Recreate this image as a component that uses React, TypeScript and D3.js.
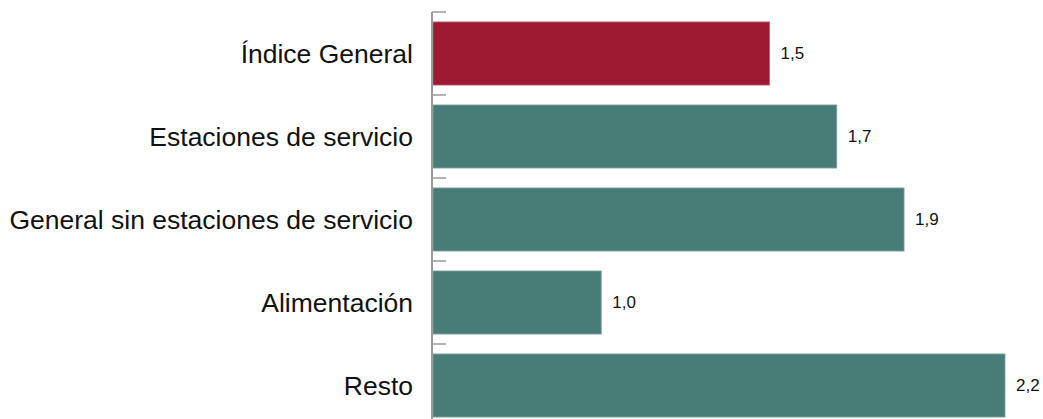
import * as d3 from "d3";
import { useEffect, useRef } from "react";

const categories = [
  "Índice General",
  "Estaciones de servicio",
  "General sin estaciones de servicio",
  "Alimentación",
  "Resto",
];
const values = [1.5, 1.7, 1.9, 1.0, 2.2];
const highlighted = ["Índice General"];

const width = 1043;
const height = 419;
const font = "'Liberation Sans', Arial, sans-serif";

export default function App() {
  const svgRef = useRef<SVGSVGElement>(null);

  useEffect(() => {
    const svg = d3.select(svgRef.current);
    svg.selectAll("*").remove();

    // axis does not start at zero in the original
    const x = d3.scaleLinear().domain([0.5, 2.2]).range([433, 1005]);
    const y = d3
      .scaleBand<string>()
      .domain(categories)
      .range([12, 427])
      .paddingInner(0.24)
      .paddingOuter(0.12);

    const data = categories.map((c, i) => ({ name: c, value: values[i] }));
    const fmt = (v: number) => d3.format(".1f")(v).replace(".", ",");
    const halfGap = (y.step() * y.paddingInner()) / 2;

    // bars
    svg
      .append("g")
      .selectAll("rect")
      .data(data)
      .join("rect")
      .attr("x", x(0.5))
      .attr("y", (d) => y(d.name)!)
      .attr("width", (d) => x(d.value) - x(0.5))
      .attr("height", y.bandwidth())
      .attr("fill", (d) => (highlighted.includes(d.name) ? "#9e1a33" : "#477d76"))
      .attr("stroke", (d) => (highlighted.includes(d.name) ? "#b85a6b" : "#7fa39e"))
      .attr("stroke-width", 0.8);

    // axis line + ticks at band boundaries
    const axis = svg.append("g").attr("stroke", "#9a9a9a");
    axis
      .append("line")
      .attr("x1", 432)
      .attr("x2", 432)
      .attr("y1", 12)
      .attr("y2", height)
      .attr("stroke-width", 2);
    axis
      .selectAll("line.tick")
      .data(categories)
      .join("line")
      .attr("class", "tick")
      .attr("x1", 432)
      .attr("x2", 446)
      .attr("y1", (d) => y(d)! - halfGap)
      .attr("y2", (d) => y(d)! - halfGap)
      .attr("stroke-width", 1.5);

    // category labels
    svg
      .append("g")
      .selectAll("text")
      .data(data)
      .join("text")
      .attr("x", 413)
      .attr("y", (d) => y(d.name)! + y.bandwidth() / 2)
      .attr("text-anchor", "end")
      .attr("dominant-baseline", "central")
      .attr("font-family", font)
      .attr("font-size", 26.5)
      .attr("fill", "#111")
      .text((d) => d.name);

    // value labels
    svg
      .append("g")
      .selectAll("text")
      .data(data)
      .join("text")
      .attr("x", (d) => x(d.value) + 11)
      .attr("y", (d) => y(d.name)! + y.bandwidth() / 2)
      .attr("dominant-baseline", "central")
      .attr("font-family", font)
      .attr("font-size", 17)
      .attr("fill", "#111")
      .text((d) => fmt(d.value));
  }, []);

  return (
    <svg
      ref={svgRef}
      width={width}
      height={height}
      style={{ position: "absolute", left: 0, top: 0, display: "block", background: "#fff" }}
    />
  );
}
